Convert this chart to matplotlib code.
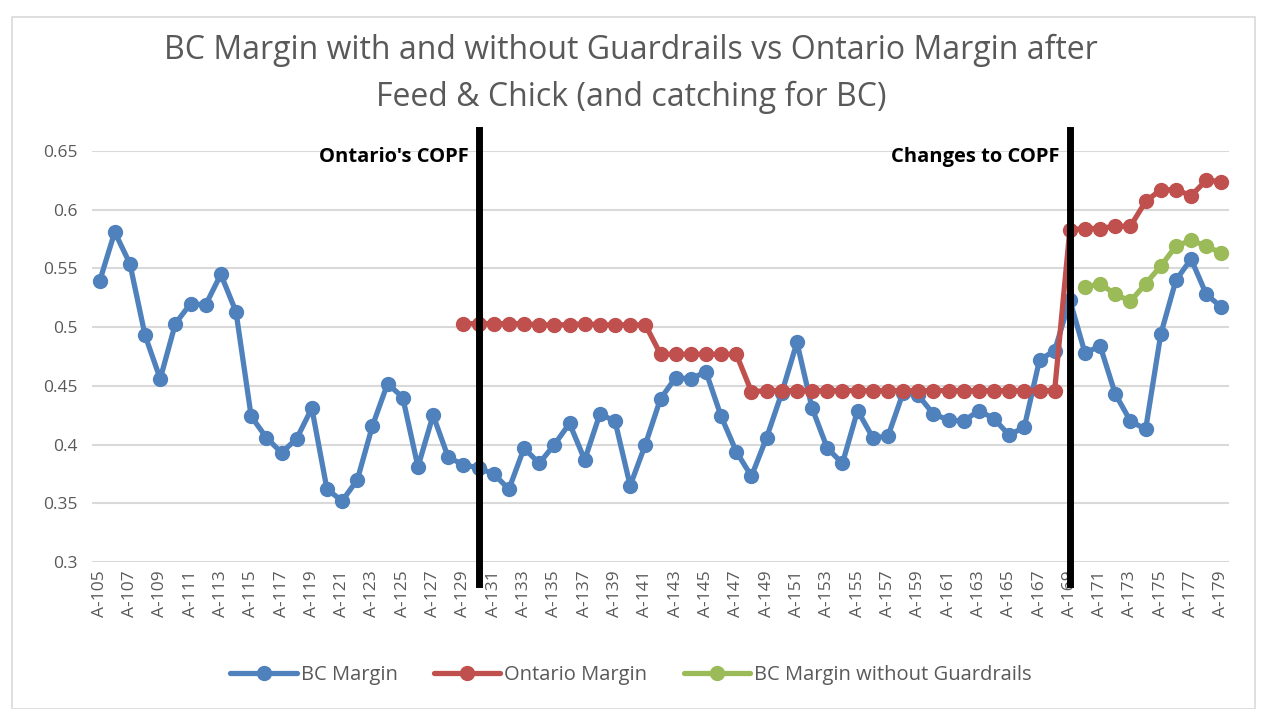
import matplotlib
matplotlib.use("Agg")
import matplotlib.pyplot as plt
from matplotlib.patches import Rectangle
import numpy as np

categories = [f"A-{n}" for n in range(105, 180)]

bc_margin = [0.539, 0.581, 0.554, 0.493, 0.456, 0.503, 0.520, 0.519, 0.545, 0.513,
             0.424, 0.406, 0.393, 0.405, 0.431, 0.362, 0.352, 0.370, 0.416, 0.452,
             0.440, 0.381, 0.425, 0.389, 0.383, 0.380, 0.375, 0.362, 0.397, 0.384,
             0.400, 0.418, 0.387, 0.426, 0.420, 0.365, 0.400, 0.439, 0.457, 0.456,
             0.462, 0.424, 0.394, 0.373, 0.406, 0.444, 0.487, 0.431, 0.397, 0.384,
             0.429, 0.406, 0.407, 0.444, 0.442, 0.426, 0.421, 0.420, 0.429, 0.422,
             0.408, 0.415, 0.472, 0.480, 0.523, 0.478, 0.484, 0.443, 0.420, 0.413,
             0.494, 0.540, 0.558, 0.528, 0.517]

nan = float("nan")
ontario_margin = [nan] * 24 + [
    0.503, 0.503, 0.503, 0.503, 0.503, 0.502, 0.502, 0.502, 0.503, 0.502,
    0.502, 0.502, 0.502, 0.477, 0.477, 0.477, 0.477, 0.477, 0.477, 0.445,
    0.446, 0.446, 0.446, 0.446, 0.446, 0.446, 0.446, 0.446, 0.446, 0.446,
    0.446, 0.446, 0.446, 0.446, 0.446, 0.446, 0.446, 0.446, 0.446, 0.446,
    0.583, 0.584, 0.584, 0.586, 0.586, 0.607, 0.617, 0.617, 0.612, 0.625, 0.624]

bc_no_guardrails = [nan] * 65 + [
    0.534, 0.537, 0.528, 0.522, 0.537, 0.552, 0.569, 0.574, 0.569, 0.563]

yticks = [0.3, 0.35, 0.4, 0.45, 0.5, 0.55, 0.6, 0.65]
ytick_labels = ["0.3", "0.35", "0.4", "0.45", "0.5", "0.55", "0.6", "0.65"]

event_positions = ["A-130", "A-169"]
event_labels = ["Ontario's COPF", "Changes to COPF"]

title = "BC Margin with and without Guardrails vs Ontario Margin after\nFeed & Chick (and catching for BC)"

plt.rcParams['font.family'] = ['Open Sans', 'DejaVu Sans']

W, H = 1262, 709
fig = plt.figure(figsize=(W / 100, H / 100), dpi=100)
fig.patches.append(Rectangle((12 / W, 0.0), (1255 - 12) / W, 1 - 17 / H,
                             transform=fig.transFigure, fill=False,
                             edgecolor="#D9D9D9", linewidth=1.2))

ax = fig.add_axes([92 / W, 1 - 562 / H, (1229 - 92) / W, (562 - 151) / H])

x = np.arange(len(categories))
blue, red, green = "#4F81BD", "#C0504D", "#9BBB59"
kw = dict(linewidth=3.8, marker="o", markersize=10, solid_capstyle="round")
ax.plot(x, bc_margin, color=blue, label="BC Margin", **kw)
ax.plot(x, ontario_margin, color=red, label="Ontario Margin", **kw)
ax.plot(x, bc_no_guardrails, color=green, label="BC Margin without Guardrails", **kw)

ax.set_xlim(-0.5, len(categories) - 0.5)
ax.set_ylim(0.3, 0.65)
ax.set_yticks(yticks)
ax.set_yticklabels(ytick_labels)
ax.set_xticks(x[::2])
ax.set_xticklabels(categories[::2], rotation=90)
ax.tick_params(axis="both", length=0, colors="#595959", labelsize=12.5)
ax.tick_params(axis="y", pad=10)
ax.tick_params(axis="x", pad=6)
ax.grid(axis="y", color="#D9D9D9", linewidth=1.5)
ax.set_axisbelow(True)
for s in ax.spines.values():
    s.set_visible(False)

# vertical event lines
for pos, lab in zip(event_positions, event_labels):
    xi = categories.index(pos)
    ax.plot([xi, xi], [0.2815, 0.668], color="black", linewidth=5,
            clip_on=False, zorder=5)
    ax.text(xi - 0.65, 0.6445, lab, ha="right", va="center", fontsize=14.5,
            fontweight="bold", color="black", family=["Open Sans", "DejaVu Sans"])

fig.text(0.5, 1 - 50 / H, title.split("\n")[0], ha="center", va="center",
         fontsize=23, color="#595959")
fig.text(0.5, 1 - 97 / H, title.split("\n")[1], ha="center", va="center",
         fontsize=23, color="#595959")

leg = fig.legend(loc="center", bbox_to_anchor=(0.5, 1 - 675 / H), ncol=3,
                 frameon=False, fontsize=14.5, handlelength=3.3,
                 columnspacing=1.8, handletextpad=0.2)
for t in leg.get_texts():
    t.set_color("#595959")

fig.savefig("out.png", dpi=100)
